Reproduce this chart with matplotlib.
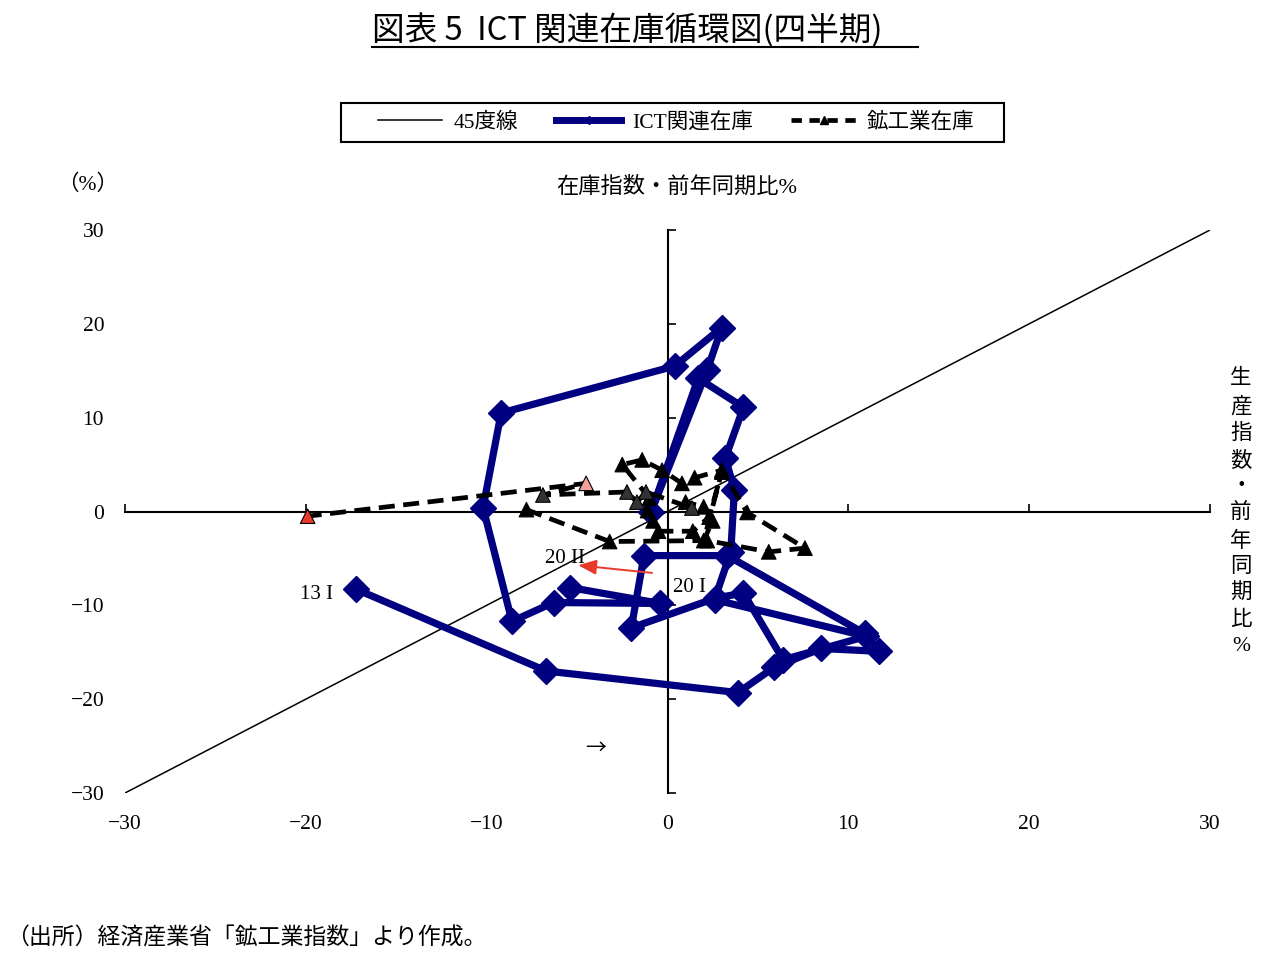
import matplotlib
matplotlib.use("Agg")
import matplotlib.pyplot as plt
from matplotlib.lines import Line2D
from matplotlib.patches import Rectangle
from matplotlib.transforms import offset_copy

plt.rcParams['font.family'] = ['Liberation Serif', 'Noto Sans CJK JP', 'DejaVu Sans']
plt.rcParams['axes.unicode_minus'] = True
SANS = ['Noto Sans CJK JP', 'DejaVu Sans']

# ICT関連: 生産指数・前年同期比 (x) と 在庫指数・前年同期比 (y), 2013 I - 2020 II
ict_prod = [-17.2, -6.7, 3.9, 5.9, 8.5, 11.7, 10.9, 3.3, -1.3, -2.0,
            2.7, 4.2, 6.4, 11.0, 2.6, 3.5, 3.7, 3.2, 4.2, 1.7,
            -0.9, 2.2, 3.0, 0.4, -9.2, -10.2, -8.6, -6.3, -0.4, -5.4]
ict_inv = [-8.3, -17.0, -19.3, -16.6, -14.6, -14.9, -13.0, -4.7, -4.7, -12.4,
           -9.2, -8.7, -15.8, -13.3, -9.4, -4.3, 2.3, 5.7, 11.1, 14.2,
           0.0, 15.1, 19.6, 15.5, 10.5, 0.4, -11.7, -9.7, -9.8, -8.1]

# 鉱工業: 生産指数・前年同期比 (x) と 在庫指数・前年同期比 (y)
mi_prod = [-7.8, -3.2, 2.2, 5.6, 7.6, 4.4, 3.0, 1.5, 0.8, -0.3,
           -1.4, -2.5, -1.0, -1.1, -0.8, -0.5, 1.4, 2.3, 3.0, 2.0,
           2.5, 2.0, 1.0, 1.35, -1.19, -1.69, -2.24, -6.89, -4.5, -19.9]
mi_inv = [0.2, -3.2, -3.1, -4.3, -3.9, -0.1, 4.4, 3.6, 3.0, 4.4,
          5.5, 5.0, 1.4, 0.1, -1.0, -2.1, -2.1, -0.6, 4.2, -3.1,
          -1.0, 0.5, 1.0, 0.37, 2.08, 1.0, 2.08, 1.76, 3.0, -0.5]
mi_colors = ['black'] * 23 + ['#333333'] * 5 + ['#f4a09a', '#e8392a']

ticks = [-30, -20, -10, 0, 10, 20, 30]
navy = '#000080'

fig = plt.figure(figsize=(12.78, 9.72), dpi=100)
ax = fig.add_axes([125 / 1278, 1 - 793 / 972, 1085 / 1278, 563 / 972])
ax.set_xlim(-30, 30)
ax.set_ylim(-30, 30)

# axes through the origin, ticks pointing inward
for side in ('top', 'right'):
    ax.spines[side].set_visible(False)
ax.spines['left'].set_position(('data', 0))
ax.spines['bottom'].set_position(('data', 0))
for side in ('left', 'bottom'):
    ax.spines[side].set_linewidth(1.5)
ax.set_xticks(ticks)
ax.set_yticks(ticks)
ax.tick_params(direction='in', length=6, width=1.2, labelbottom=False, labelleft=False)

# tick labels along the outer edges
sx = ax.secondary_xaxis('bottom')
sx.set_xticks(ticks)
sx.spines['bottom'].set_visible(False)
sx.tick_params(length=0, pad=16, labelsize=15.5)
sy = ax.secondary_yaxis('left')
sy.set_yticks(ticks)
sy.spines['left'].set_visible(False)
sy.tick_params(length=0, pad=15, labelsize=15.5)

# 45度線
ax.plot([-30, 30], [-30, 30], color='black', lw=1.1, zorder=2)

# ICT関連在庫
ax.plot(ict_prod, ict_inv, color=navy, lw=5.2, marker='D', markersize=13,
        markerfacecolor=navy, markeredgecolor=navy, zorder=3, solid_joinstyle='round')

# 鉱工業在庫
ax.plot(mi_prod, mi_inv, color='black', lw=3.4, ls=(0, (3.4, 1.8)), zorder=4)
ax.scatter(mi_prod, mi_inv, marker='^', s=110, c=mi_colors, edgecolors='black',
           linewidths=0.8, zorder=5)

# point labels
ax.annotate('13 I', (ict_prod[0], ict_inv[0]), xytext=(-17, -4), textcoords='offset points',
            ha='right', va='center', fontsize=15)
ax.annotate('20 I', (ict_prod[-2], ict_inv[-2]), xytext=(9, 11.5), textcoords='offset points',
            ha='left', va='center', fontsize=15)
ax.annotate('20 II', (ict_prod[-1], ict_inv[-1]), xytext=(-3.5, 21), textcoords='offset points',
            ha='center', va='center', fontsize=15)

# direction of the latest move
ax.annotate('', xy=(ict_prod[-1], ict_inv[-1]), xycoords=offset_copy(ax.transData, fig, x=6, y=16, units='points'),
            xytext=(ict_prod[-2], ict_inv[-2]), textcoords=offset_copy(ax.transData, fig, x=-6, y=22, units='points'),
            arrowprops=dict(arrowstyle='-|>,head_length=1.1,head_width=0.45', color='#e8392a',
                            lw=1.4, shrinkA=0, shrinkB=0), zorder=6)
ax.text(-4.0, -25.2, '→', ha='center', va='center', fontsize=15, family=SANS)

# axis captions
fig.text(88 / 1278, 1 - 185 / 972, '（%）', ha='center', va='center', fontsize=15.5)
fig.text(677 / 1278, 1 - 187 / 972, '在庫指数・前年同期比%', ha='center', va='center', fontsize=16)
fig.text(1241 / 1278, 1 - 513 / 972, '\n'.join('生産指数・前年同期比%'), ha='center', va='center',
         fontsize=15.5, linespacing=1.47)

# title with underline
fig.text(372 / 1278, 1 - 31 / 972, '図表 5  ICT 関連在庫循環図(四半期)', ha='left', va='center',
         fontsize=23.5, family=SANS)
fig.add_artist(Line2D([372 / 1278, 918 / 1278], [1 - 47 / 972, 1 - 47 / 972],
                      transform=fig.transFigure, color='black', lw=1.5))

# legend: entries without frame, box drawn separately for wider side margins
handles = [
    Line2D([], [], color='black', lw=1.1),
    Line2D([], [], color=navy, lw=5, marker='D', markersize=4),
    Line2D([], [], color='black', lw=3.4, ls=(0, (2.2, 1.6)), marker='^', markersize=6),
]
fig.legend(handles, ['45度線', 'ICT関連在庫', '鉱工業在庫'], loc='center',
           bbox_to_anchor=(676 / 1278, 1 - 122.5 / 972), ncol=3, fontsize=15.5,
           frameon=False, handlelength=3.0, columnspacing=1.8, handletextpad=0.5,
           borderpad=0.2, borderaxespad=0)
fig.add_artist(Rectangle((341 / 1278, 1 - 142 / 972), 663 / 1278, 39 / 972,
                         transform=fig.transFigure, fill=False, edgecolor='black', lw=1.5))

# source note
fig.text(6 / 1278, 1 - 938 / 972, '（出所）経済産業省「鉱工業指数」より作成。', ha='left', va='center',
         fontsize=16.5, family=SANS)

fig.savefig('out.png', dpi=100)
